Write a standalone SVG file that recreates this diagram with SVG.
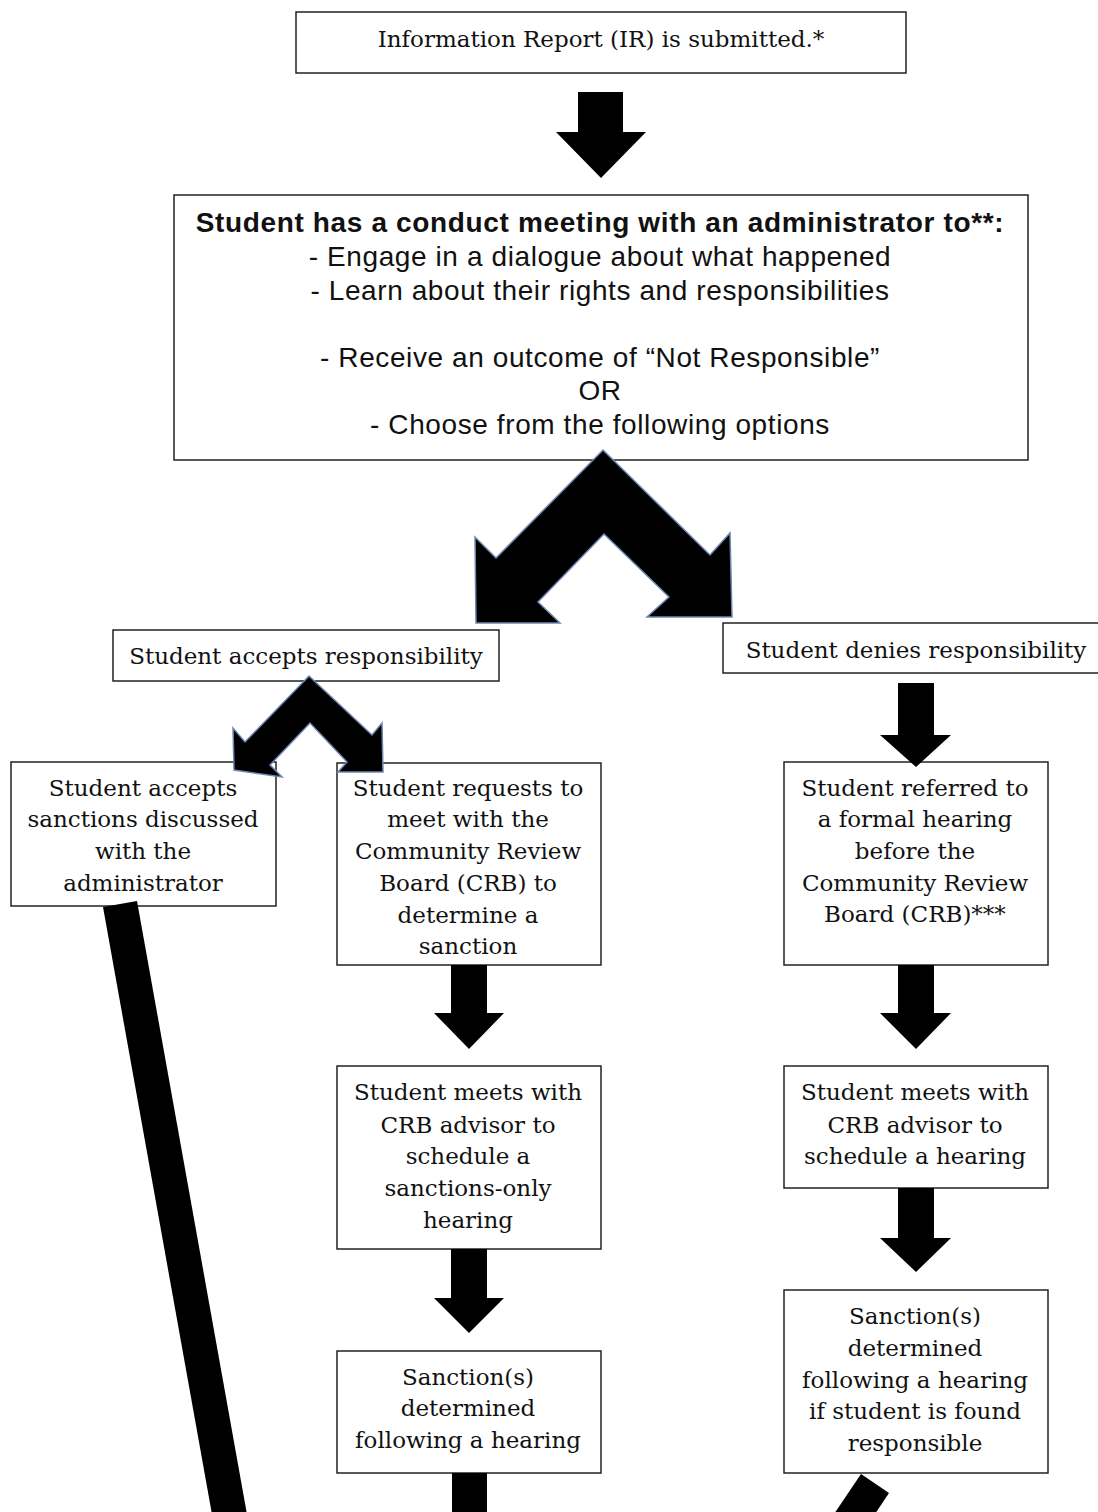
<svg xmlns="http://www.w3.org/2000/svg" width="1098" height="1512" viewBox="0 0 1098 1512">
<style>
.box{fill:#fff;stroke:#222;stroke-width:1.5}
.t{font-family:"DejaVu Serif","Liberation Serif",serif;font-size:23px;fill:#111;text-anchor:middle}
.s{font-family:"Liberation Sans",Arial,sans-serif;font-size:28px;letter-spacing:0.6px;fill:#111;text-anchor:middle}
.sb{font-weight:bold;letter-spacing:0.65px}
.arr{fill:#000}
.chev{fill:#000;stroke:#6d86b0;stroke-width:1.5;stroke-linejoin:miter}
</style>
<rect width="1098" height="1512" fill="#fff"/>
<g id="n-ir">
<rect class="box" x="296" y="12" width="610" height="61"/>
<text class="t" x="601" y="47">Information Report (IR) is submitted.*</text>
</g>
<g id="n-meeting">
<rect class="box" x="174" y="195" width="854" height="265"/>
<text class="s sb" x="600" y="232">Student has a conduct meeting with an administrator to**:</text>
<text class="s" x="600" y="266">- Engage in a dialogue about what happened</text>
<text class="s" x="600" y="300">- Learn about their rights and responsibilities</text>
<text class="s" x="600" y="367">- Receive an outcome of “Not Responsible”</text>
<text class="s" x="600" y="400">OR</text>
<text class="s" x="600" y="434">- Choose from the following options</text>
</g>
<g id="n-accepts">
<rect class="box" x="113" y="630" width="386" height="51"/>
<text class="t" x="306" y="664">Student accepts responsibility</text>
</g>
<g id="n-denies">
<rect class="box" x="723" y="623" width="380" height="50"/>
<text class="t" x="916" y="658">Student denies responsibility</text>
</g>
<g id="n-accept-sanctions">
<rect class="box" x="11" y="762" width="265" height="144"/>
<text class="t" x="143" y="796">Student accepts</text>
<text class="t" x="143" y="827">sanctions discussed</text>
<text class="t" x="143" y="859">with the</text>
<text class="t" x="143" y="891">administrator</text>
</g>
<g id="n-requests">
<rect class="box" x="337" y="763" width="264" height="202"/>
<text class="t" x="468" y="796">Student requests to</text>
<text class="t" x="468" y="827">meet with the</text>
<text class="t" x="468" y="859">Community Review</text>
<text class="t" x="468" y="891">Board (CRB) to</text>
<text class="t" x="468" y="923">determine a</text>
<text class="t" x="468" y="954">sanction</text>
</g>
<g id="n-referred">
<rect class="box" x="784" y="762" width="264" height="203"/>
<text class="t" x="915" y="796">Student referred to</text>
<text class="t" x="915" y="827">a formal hearing</text>
<text class="t" x="915" y="859">before the</text>
<text class="t" x="915" y="891">Community Review</text>
<text class="t" x="915" y="922">Board (CRB)***</text>
</g>
<g id="n-meets-left">
<rect class="box" x="337" y="1066" width="264" height="183"/>
<text class="t" x="468" y="1100">Student meets with</text>
<text class="t" x="468" y="1133">CRB advisor to</text>
<text class="t" x="468" y="1164">schedule a</text>
<text class="t" x="468" y="1196">sanctions-only</text>
<text class="t" x="468" y="1228">hearing</text>
</g>
<g id="n-meets-right">
<rect class="box" x="784" y="1066" width="264" height="122"/>
<text class="t" x="915" y="1100">Student meets with</text>
<text class="t" x="915" y="1133">CRB advisor to</text>
<text class="t" x="915" y="1164">schedule a hearing</text>
</g>
<g id="n-sanction-left">
<rect class="box" x="337" y="1351" width="264" height="122"/>
<text class="t" x="468" y="1385">Sanction(s)</text>
<text class="t" x="468" y="1416">determined</text>
<text class="t" x="468" y="1448">following a hearing</text>
</g>
<g id="n-sanction-right">
<rect class="box" x="784" y="1290" width="264" height="183"/>
<text class="t" x="915" y="1324">Sanction(s)</text>
<text class="t" x="915" y="1356">determined</text>
<text class="t" x="915" y="1388">following a hearing</text>
<text class="t" x="915" y="1419">if student is found</text>
<text class="t" x="915" y="1451">responsible</text>
</g>
<g id="connectors">
<path class="arr" d="M578,92 H623 V132 H646 L601,178 L556,132 H578 Z"/>
<path class="chev" d="M603,450 L710,555 L730,533 L732,617 L647,617 L669,597 L604,534 L538,602 L560,623 L476,623 L475,537 L496,558 Z"/>
<path class="chev" d="M309,676 L372,735 L382,723 L383,772 L338,772 L347,762 L310,723 L270,765 L282,777 L234,770 L233,728 L245,742 Z"/>
<path class="arr" d="M898,683 H934 V735 H951 L916,767 L880,735 H898 Z"/>
<path class="arr" d="M451,965 H487 V1013 H504 L469,1049 L434,1013 H451 Z"/>
<path class="arr" d="M898,965 H934 V1013 H951 L916,1049 L880,1013 H898 Z"/>
<path class="arr" d="M451,1249 H487 V1298 H504 L469,1333 L434,1298 H451 Z"/>
<path class="arr" d="M898,1188 H934 V1238 H951 L916,1272 L880,1238 H898 Z"/>
<path class="arr" d="M452,1473 H487 V1520 H452 Z"/>
<path class="arr" d="M103,907 L137,901 L248,1520 L213,1520 Z"/>
<path class="arr" d="M861,1474 L889,1493 L871,1520 L830,1520 Z"/>
</g>
</svg>
